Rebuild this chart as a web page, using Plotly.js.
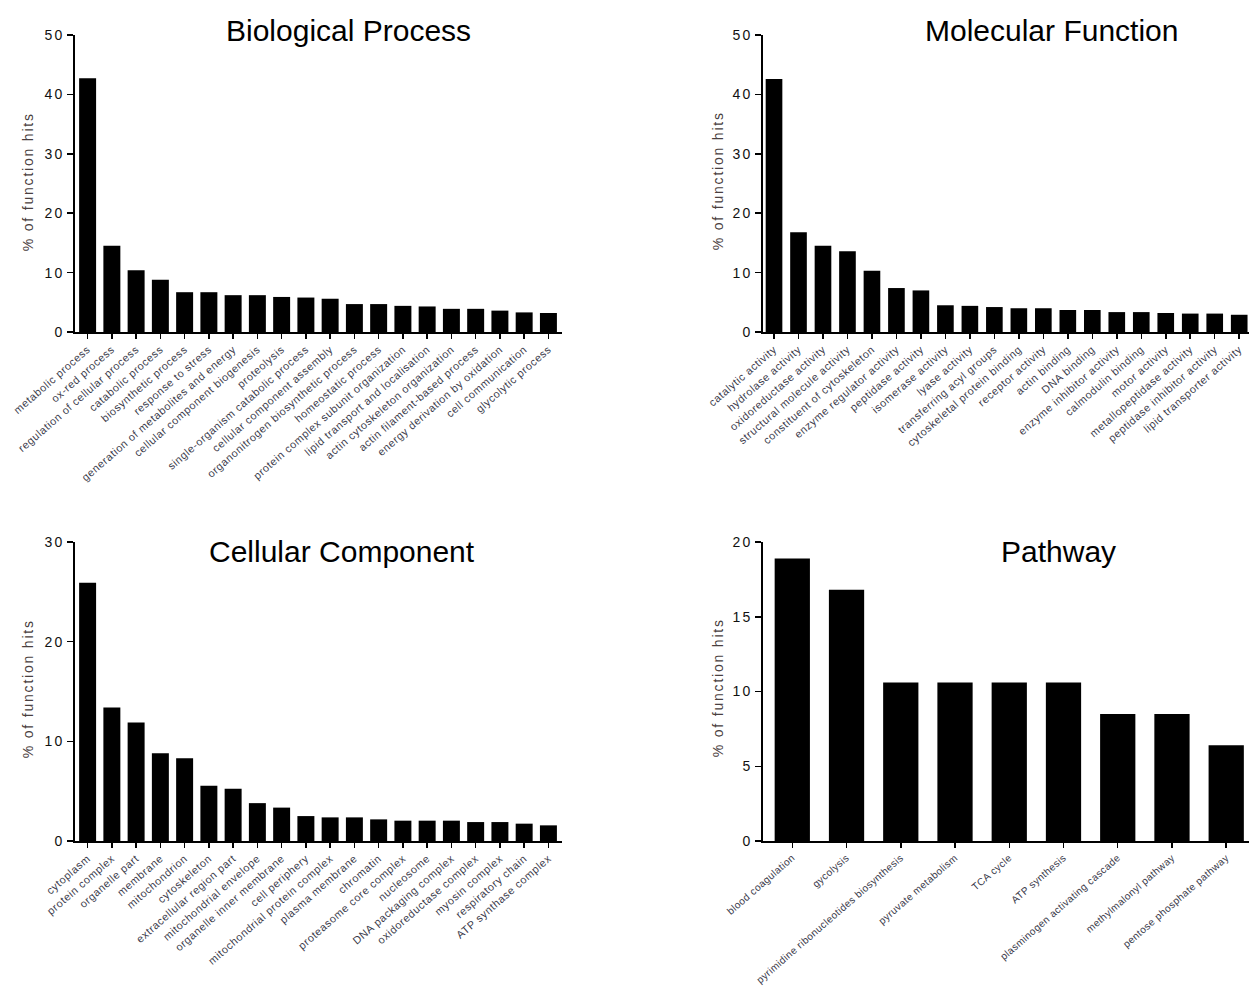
<!DOCTYPE html>
<html>
<head>
<meta charset="utf-8">
<script src="https://cdn.plot.ly/plotly-3.0.1.min.js"></script>
<style>
  html, body { margin: 0; padding: 0; background: #fff; }
  #chart { width: 1249px; height: 997px; }
</style>
</head>
<body>
<div id="chart"></div>
<script>
// ---- Data ----
const bpLabels = [
  "metabolic process", "ox-red process", "regulation of cellular process", "catabolic process",
  "biosynthetic process", "response to stress", "generation of metabolites and energy",
  "cellular component biogenesis", "proteolysis", "single-organism catabolic process",
  "cellular component assembly", "organonitrogen biosynthetic process", "homeostatic process",
  "protein complex subunit organization", "lipid transport and localisation",
  "actin cytoskeleton organization", "actin filament-based process",
  "energy derivation by oxidation", "cell communication", "glycolytic process"
];
const bpValues = [42.7, 14.5, 10.4, 8.8, 6.7, 6.7, 6.2, 6.2, 5.9, 5.8, 5.6, 4.7, 4.7, 4.4, 4.3, 3.9, 3.9, 3.6, 3.3, 3.2];

const mfLabels = [
  "catalytic activity", "hydrolase activity", "oxidoreductase activity", "structural molecule activity",
  "constituent of cytoskeleton", "enzyme regulator activity", "peptidase activity", "isomerase activity",
  "lyase activity", "transferring acyl groups", "cytoskeletal protein binding", "receptor activity",
  "actin binding", "DNA binding", "enzyme inhibitor activity", "calmodulin binding", "motor activity",
  "metallopeptidase activity", "peptidase inhibitor activity", "lipid transporter activity"
];
const mfValues = [42.6, 16.8, 14.5, 13.6, 10.3, 7.4, 7.0, 4.5, 4.4, 4.2, 4.0, 4.0, 3.7, 3.7, 3.35, 3.35, 3.2, 3.1, 3.1, 2.9];

const ccLabels = [
  "cytoplasm", "protein complex", "organelle part", "membrane", "mitochondrion", "cytoskeleton",
  "extracellular region part", "mitochondrial envelope", "organelle inner membrane", "cell periphery",
  "mitochondrial protein complex", "plasma membrane", "chromatin", "proteasome core complex",
  "nucleosome", "DNA packaging complex", "oxidoreductase complex", "myosin complex",
  "respiratory chain", "ATP synthase complex"
];
const ccValues = [25.9, 13.4, 11.9, 8.8, 8.3, 5.55, 5.25, 3.8, 3.35, 2.5, 2.37, 2.37, 2.17, 2.04, 2.04, 2.04, 1.9, 1.9, 1.74, 1.57];

const pwLabels = [
  "blood coagulation", "gycolysis", "pyrimidine ribonucleotides biosynthesis", "pyruvate metabolism",
  "TCA cycle", "ATP synthesis", "plasminogen activating cascade", "methylmalonyl pathway",
  "pentose phosphate pathway"
];
const pwValues = [18.9, 16.8, 10.6, 10.6, 10.6, 10.6, 8.5, 8.5, 6.4];

const panelTitles = ["Biological Process", "Molecular Function", "Cellular Component", "Pathway"];
const yTitle = "% of function hits";

// ---- Styling ----
const FONT = "Liberation Sans, Arial, sans-serif";
const W = 1249, H = 997;
const px = v => v / W;
const py = v => 1 - v / H;

function bar(labels, values, xa, ya, w) {
  return {
    type: "bar", x: labels, y: values, xaxis: xa, yaxis: ya,
    width: w, marker: { color: "#000", line: { width: 0 } },
    hoverinfo: "x+y", showlegend: false
  };
}

const data = [
  bar(bpLabels, bpValues, "x", "y", 0.7),
  bar(mfLabels, mfValues, "x2", "y2", 0.68),
  bar(ccLabels, ccValues, "x3", "y3", 0.7),
  bar(pwLabels, pwValues, "x4", "y4", 0.65)
];

function xaxis(domain, range, anchor, fs) {
  return {
    domain: domain, range: range, anchor: anchor, type: "category",
    showline: true, linecolor: "#000", linewidth: 2,
    ticks: "outside", ticklen: 5, tickwidth: 1.5, tickcolor: "#000",
    tickangle: -41, showgrid: false, zeroline: false, automargin: false,
    tickfont: { family: FONT, size: fs, color: "#3a3a4a" }
  };
}
function yaxis(domain, range, dtick, anchor) {
  return {
    domain: domain, range: range, dtick: dtick, anchor: anchor,
    showline: true, linecolor: "#000", linewidth: 2,
    ticks: "outside", ticklen: 6, tickwidth: 1.5, tickcolor: "#000",
    showgrid: false, zeroline: false, automargin: false,
    tickfont: { family: FONT, size: 14, color: "#111" }
  };
}

const leftX = [px(75), px(562)];
const rightX = [px(763), 1];
const topY = [py(332), py(35)];
const botY = [py(841), py(542)];

const layout = {
  width: W, height: H,
  margin: { l: 0, r: 0, t: 0, b: 0 },
  paper_bgcolor: "#fff", plot_bgcolor: "#fff",
  font: { family: FONT },
  xaxis: xaxis(leftX, [-0.52, 19.56], "y", 10.8),
  yaxis: yaxis(topY, [0, 50], 10, "x"),
  xaxis2: xaxis(rightX, [-0.45, 19.4], "y2", 10.8),
  yaxis2: yaxis(topY, [0, 50], 10, "x2"),
  xaxis3: xaxis(leftX, [-0.52, 19.56], "y3", 10.8),
  yaxis3: yaxis(botY, [0, 30], 10, "x3"),
  xaxis4: xaxis(rightX, [-0.54, 8.42], "y4", 10.1),
  yaxis4: yaxis(botY, [0, 20], 5, "x4"),
  annotations: [
    { text: panelTitles[0], x: px(348), y: py(30) },
    { text: panelTitles[1], x: px(1051), y: py(30) },
    { text: panelTitles[2], x: px(342), y: py(551) },
    { text: panelTitles[3], x: px(1058), y: py(551) }
  ].map(a => Object.assign(a, {
    xref: "paper", yref: "paper", xanchor: "center", yanchor: "middle",
    showarrow: false, font: { family: FONT, size: 30, color: "#000" }
  })).concat([
    { x: px(28), y: py(181) },
    { x: px(718), y: py(181) },
    { x: px(28), y: py(688) },
    { x: px(718), y: py(688) }
  ].map(a => Object.assign(a, {
    text: yTitle, xref: "paper", yref: "paper", xanchor: "center", yanchor: "middle",
    textangle: -90, showarrow: false,
    font: { family: FONT, size: 14, color: "#4a4040" }
  })))
};

Plotly.newPlot("chart", data, layout, { displayModeBar: false, staticPlot: true }).then(gd => {
  // widen letter spacing like the reference rendering
  gd.querySelectorAll(".xtick text, .x2tick text, .x3tick text")
    .forEach(t => { t.style.letterSpacing = "0.6px"; });
  gd.querySelectorAll(".x4tick text")
    .forEach(t => { t.style.letterSpacing = "0.4px"; });
  gd.querySelectorAll(".ytick text, .y2tick text, .y3tick text, .y4tick text")
    .forEach(t => { t.style.letterSpacing = "2px"; });
  gd.querySelectorAll(".annotation-text").forEach(t => {
    if (t.textContent === yTitle) t.style.letterSpacing = "1.8px";
  });
});
</script>
</body>
</html>
